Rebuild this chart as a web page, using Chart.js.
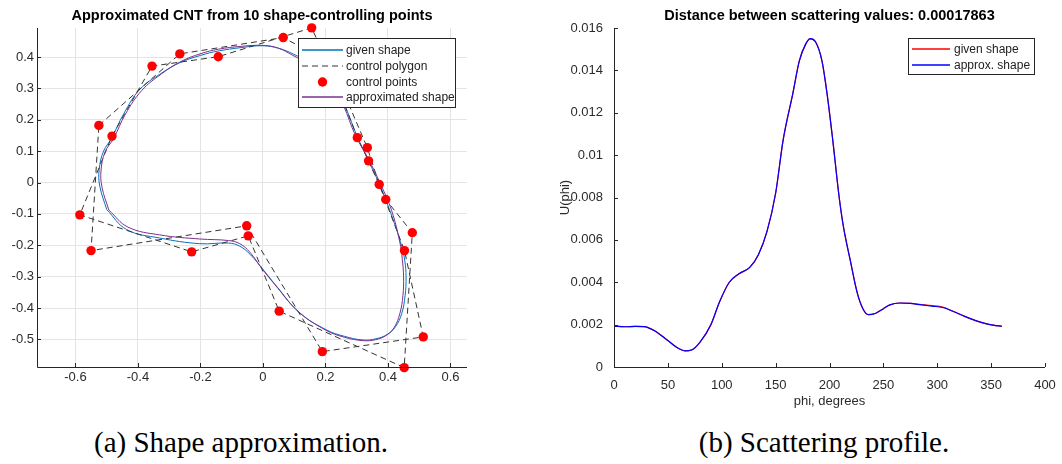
<!DOCTYPE html>
<html>
<head>
<meta charset="utf-8">
<script src="https://cdn.jsdelivr.net/npm/chart.js@4.4.1/dist/chart.umd.min.js"></script>
<style>
  body { margin: 0; background: #fff; width: 1062px; height: 464px; position: relative; overflow: hidden; }
  canvas { position: absolute; top: 0; }
  #shapeChart { left: 0; }
  #scatterChart { left: 531px; }
  .caption { position: absolute; top: 428px; font-family: 'Liberation Serif', 'Times New Roman', serif;
             font-size: 29px; line-height: 29px; color: #000; white-space: nowrap; transform: translateX(-50%); }
</style>
</head>
<body>
<canvas id="shapeChart" width="531" height="420"></canvas>
<canvas id="scatterChart" width="531" height="420"></canvas>
<div class="caption" style="left:241px">(a) Shape approximation.</div>
<div class="caption" style="left:824px">(b) Scattering profile.</div>
<script>
// ---- left panel: CNT cross-section ----
const givenX = [-0.500, -0.522, -0.524, -0.510, -0.485, -0.445, -0.394, -0.330, -0.266, -0.200, -0.144, -0.070, 0.000, 0.050, 0.096, 0.150, 0.200, 0.235, 0.262, 0.302, 0.335, 0.372, 0.410, 0.444, 0.454, 0.458, 0.455, 0.444, 0.424, 0.398, 0.362, 0.321, 0.260, 0.204, 0.118, 0.044, 0.001, -0.040, -0.074, -0.110, -0.202, -0.330, -0.436];
const givenY = [-0.086, -0.012, 0.042, 0.100, 0.140, 0.220, 0.297, 0.345, 0.382, 0.405, 0.419, 0.430, 0.436, 0.428, 0.410, 0.380, 0.335, 0.290, 0.244, 0.146, 0.075, -0.004, -0.100, -0.203, -0.250, -0.300, -0.360, -0.418, -0.460, -0.484, -0.498, -0.502, -0.490, -0.470, -0.416, -0.331, -0.278, -0.230, -0.203, -0.193, -0.195, -0.177, -0.150];

const approxX = [-0.493, -0.515, -0.518, -0.505, -0.478, -0.440, -0.388, -0.325, -0.262, -0.198, -0.142, -0.070, 0.000, 0.050, 0.096, 0.150, 0.200, 0.235, 0.258, 0.296, 0.335, 0.376, 0.412, 0.438, 0.446, 0.450, 0.448, 0.438, 0.420, 0.395, 0.360, 0.321, 0.260, 0.200, 0.112, 0.038, -0.005, -0.042, -0.074, -0.110, -0.202, -0.330, -0.432];
const approxY = [-0.088, -0.015, 0.040, 0.098, 0.140, 0.218, 0.293, 0.346, 0.386, 0.411, 0.425, 0.434, 0.437, 0.428, 0.405, 0.375, 0.330, 0.285, 0.245, 0.150, 0.080, -0.004, -0.090, -0.190, -0.245, -0.300, -0.360, -0.418, -0.462, -0.487, -0.501, -0.504, -0.493, -0.470, -0.410, -0.325, -0.272, -0.222, -0.195, -0.185, -0.180, -0.167, -0.142];

// control polygon: two interleaved closed loops (a few points sit behind the legend)
const loopAX = [-0.525, -0.266, 0.065, 0.200, 0.270, 0.334, 0.372, 0.453, 0.513, 0.190, -0.052, -0.550];
const loopAY = [0.182, 0.410, 0.462, 0.390, 0.260, 0.111, -0.006, -0.217, -0.492, -0.539, -0.138, -0.217];
const loopBX = [-0.483, -0.355, -0.143, 0.156, 0.230, 0.302, 0.338, 0.393, 0.478, 0.452, 0.052, -0.047, -0.228, -0.586];
const loopBY = [0.148, 0.371, 0.401, 0.493, 0.330, 0.143, 0.069, -0.054, -0.160, -0.590, -0.410, -0.170, -0.221, -0.103];

const shapeXTicks = [-0.6, -0.4, -0.2, 0, 0.2, 0.4, 0.6];
const shapeYTicks = [-0.5, -0.4, -0.3, -0.2, -0.1, 0, 0.1, 0.2, 0.3, 0.4];

// ---- right panel: scattering profile ----
const phi = [0, 10, 20, 28, 38, 50, 60, 66, 72, 80, 90, 98, 107, 116, 126, 134, 142, 150, 157, 166, 172, 178, 182, 187, 193, 198, 203, 209, 213, 219, 226, 231, 236, 243, 250, 256, 265, 275, 285, 295, 305, 315, 325, 335, 345, 352, 360];
const uGiven = [0.00193, 0.00190, 0.00192, 0.00191, 0.00170, 0.00125, 0.00087, 0.00076, 0.00080, 0.00118, 0.00200, 0.00308, 0.00400, 0.00440, 0.00470, 0.00530, 0.00640, 0.00820, 0.01072, 0.01292, 0.01445, 0.01525, 0.01549, 0.01535, 0.01445, 0.01280, 0.01072, 0.00800, 0.00660, 0.00510, 0.00345, 0.00275, 0.00247, 0.00254, 0.00275, 0.00293, 0.00302, 0.00300, 0.00295, 0.00290, 0.00283, 0.00262, 0.00240, 0.00220, 0.00205, 0.00198, 0.00192];
const uApprox = [0.00193, 0.00190, 0.00192, 0.00191, 0.00170, 0.00125, 0.00087, 0.00076, 0.00080, 0.00119, 0.00201, 0.00308, 0.00400, 0.00440, 0.00470, 0.00530, 0.00640, 0.00820, 0.01072, 0.01292, 0.01445, 0.01525, 0.01550, 0.01535, 0.01445, 0.01280, 0.01072, 0.00800, 0.00660, 0.00510, 0.00345, 0.00275, 0.00247, 0.00254, 0.00275, 0.00293, 0.00302, 0.00300, 0.00293, 0.00287, 0.00281, 0.00262, 0.00240, 0.00220, 0.00205, 0.00198, 0.00192];
const phiTicks = [0, 50, 100, 150, 200, 250, 300, 350, 400];
const uTicks = [0, 0.002, 0.004, 0.006, 0.008, 0.01, 0.012, 0.014, 0.016];

const INK = '#262626';
const FONT = "'Liberation Sans', Arial, Helvetica, sans-serif";

function toPoints(xs, ys, close) {
  const pts = xs.map((x, i) => ({ x, y: ys[i] }));
  if (close) pts.push({ x: xs[0], y: ys[0] });
  return pts;
}

const fmt = v => String(Math.round(v * 1000) / 1000);

function axisScale(min, max, tickVals, extra) {
  return Object.assign({
    type: 'linear', min, max,
    afterBuildTicks: s => { s.ticks = tickVals.map(v => ({ value: v })); },
    border: { display: false },
    ticks: { color: '#2b2b2b', font: { family: FONT, size: 13 }, callback: fmt, autoSkip: false, maxRotation: 0 }
  }, extra);
}

// axes lines, inward ticks, title, axis labels and a boxed legend
function decor(opts) {
  return {
    id: 'decor',
    afterDraw(chart) {
      const { ctx, chartArea: a, scales: { x, y } } = chart;
      ctx.save();
      ctx.strokeStyle = INK;
      ctx.lineWidth = 1;
      ctx.setLineDash([]);
      ctx.beginPath();
      ctx.moveTo(a.left + 0.5, a.top);
      ctx.lineTo(a.left + 0.5, a.bottom + 0.5);
      ctx.lineTo(a.right, a.bottom + 0.5);
      x.ticks.forEach(t => {
        const px = Math.round(x.getPixelForValue(t.value)) + 0.5;
        ctx.moveTo(px, a.bottom); ctx.lineTo(px, a.bottom - 4);
      });
      y.ticks.forEach(t => {
        const py = Math.round(y.getPixelForValue(t.value)) + 0.5;
        ctx.moveTo(a.left, py); ctx.lineTo(a.left + 4, py);
      });
      ctx.stroke();

      ctx.fillStyle = '#000';
      ctx.font = `bold 14.5px ${FONT}`;
      ctx.textAlign = 'center';
      ctx.textBaseline = 'middle';
      ctx.fillText(opts.title, (a.left + a.right) / 2, a.top - 12);

      ctx.fillStyle = '#2b2b2b';
      ctx.font = `13px ${FONT}`;
      if (opts.xTitle) ctx.fillText(opts.xTitle, (a.left + a.right) / 2, a.bottom + 34);
      if (opts.yTitle) {
        ctx.save();
        ctx.translate(a.left - 49, (a.top + a.bottom) / 2);
        ctx.rotate(-Math.PI / 2);
        ctx.fillText(opts.yTitle, 0, 0);
        ctx.restore();
      }

      const lg = opts.legend;
      const bx = Math.round(a.right - lg.right - lg.width), by = Math.round(a.top + lg.top);
      ctx.fillStyle = '#fff';
      ctx.fillRect(bx, by, lg.width, lg.height);
      ctx.strokeStyle = INK;
      ctx.strokeRect(bx + 0.5, by + 0.5, lg.width, lg.height);
      ctx.font = `12px ${FONT}`;
      ctx.textAlign = 'left';
      lg.items.forEach((it, i) => {
        const ry = Math.round(by + lg.rowStart + i * lg.rowStep);
        if (it.marker) {
          ctx.fillStyle = it.color;
          ctx.beginPath();
          ctx.arc(bx + (lg.line0 + lg.line1) / 2, ry, 4.7, 0, Math.PI * 2);
          ctx.fill();
        } else {
          ctx.strokeStyle = it.color;
          ctx.lineWidth = it.width || 1.3;
          ctx.setLineDash(it.dash || []);
          ctx.beginPath();
          ctx.moveTo(bx + lg.line0, ry);
          ctx.lineTo(bx + lg.line1, ry);
          ctx.stroke();
          ctx.setLineDash([]);
        }
        ctx.fillStyle = '#222';
        ctx.fillText(it.label, bx + lg.textX, ry + 1);
      });
      ctx.restore();
    }
  };
}

const common = {
  responsive: false,
  devicePixelRatio: 1,
  animation: false,
  events: [],
  plugins: { legend: { display: false }, tooltip: { enabled: false } }
};

const curve = { showLine: true, pointRadius: 0, borderWidth: 1, tension: 0.4, fill: false };

new Chart(document.getElementById('shapeChart'), {
  type: 'scatter',
  data: {
    datasets: [
      { data: toPoints(loopAX.concat(loopBX), loopAY.concat(loopBY)), showLine: false, pointRadius: 4.7,
        pointBackgroundColor: '#ff0000', pointBorderWidth: 0, clip: false },
      Object.assign({ data: toPoints(approxX, approxY, true), borderColor: '#7E2F8E' }, curve),
      { data: toPoints(loopAX, loopAY, true), showLine: true, pointRadius: 0, borderColor: '#333', borderWidth: 1, borderDash: [6, 4], tension: 0 },
      { data: toPoints(loopBX, loopBY, true), showLine: true, pointRadius: 0, borderColor: '#333', borderWidth: 1, borderDash: [6, 4], tension: 0 },
      Object.assign({ data: toPoints(givenX, givenY, true), borderColor: '#0072BD' }, curve)
    ]
  },
  options: Object.assign({}, common, {
    layout: { padding: { left: 0, right: 64, top: 28, bottom: 23 } },
    scales: {
      x: axisScale(-0.723, 0.653, shapeXTicks, {
        afterFit: s => { s.height = 30; },
        grid: { color: '#e4e4e4', drawTicks: false }
      }),
      y: axisScale(-0.588, 0.4925, shapeYTicks, {
        afterFit: s => { s.width = 37; },
        grid: { color: '#e4e4e4', drawTicks: false }
      })
    }
  }),
  plugins: [decor({
    title: 'Approximated CNT from 10 shape-controlling points',
    legend: {
      right: 12, top: 10, width: 157, height: 69, rowStart: 12, rowStep: 15.8, line0: 4, line1: 45, textX: 48,
      items: [
        { label: 'given shape', color: '#0072BD' },
        { label: 'control polygon', color: '#333', dash: [6, 4], width: 1 },
        { label: 'control points', color: '#ff0000', marker: true },
        { label: 'approximated shape', color: '#7E2F8E' }
      ]
    }
  })]
});

new Chart(document.getElementById('scatterChart'), {
  type: 'scatter',
  data: {
    datasets: [
      { data: toPoints(phi, uApprox), showLine: true, pointRadius: 0, borderColor: '#0000ff', borderWidth: 1.2, cubicInterpolationMode: 'monotone' },
      { data: toPoints(phi, uGiven), showLine: true, pointRadius: 0, borderColor: '#ff0000', borderWidth: 1.2, cubicInterpolationMode: 'monotone' }
    ]
  },
  options: Object.assign({}, common, {
    layout: { padding: { left: 0, right: 17, top: 28, bottom: 23 } },
    scales: {
      x: axisScale(0, 400, phiTicks, {
        afterFit: s => { s.height = 30; },
        grid: { display: false }
      }),
      y: axisScale(0, 0.016, uTicks, {
        afterFit: s => { s.width = 83; },
        grid: { display: false }
      })
    }
  }),
  plugins: [decor({
    title: 'Distance between scattering values: 0.00017863',
    xTitle: 'phi, degrees',
    yTitle: 'U(phi)',
    legend: {
      right: 11, top: 10, width: 126, height: 36, rowStart: 11, rowStep: 15.7, line0: 4, line1: 42, textX: 46,
      items: [
        { label: 'given shape', color: '#ff0000', width: 1.5 },
        { label: 'approx. shape', color: '#0000ff', width: 1.5 }
      ]
    }
  })]
});
</script>
</body>
</html>
